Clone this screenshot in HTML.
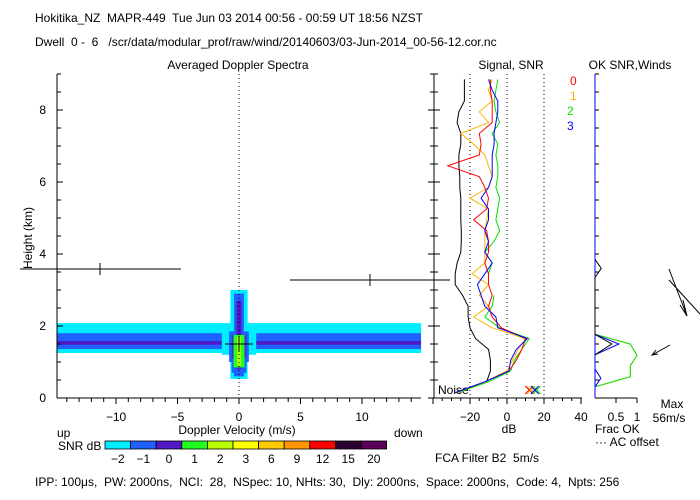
<!DOCTYPE html>
<html><head><meta charset="utf-8">
<style>
body{margin:0;background:#fff;}
svg{display:block;font-family:"Liberation Sans",sans-serif;}
text{font-size:12px;fill:#000;white-space:pre;}
</style></head>
<body>
<svg id="chart" width="700" height="500" viewBox="0 0 700 500" xml:space="preserve">
<text x="35" y="22" font-size="13">Hokitika_NZ  MAPR-449  Tue Jun 03 2014 00:56 - 00:59 UT 18:56 NZST</text>
<text x="35" y="46">Dwell  0 -  6   /scr/data/modular_prof/raw/wind/20140603/03-Jun-2014_00-56-12.cor.nc</text>
<text x="238" y="69" text-anchor="middle">Averaged Doppler Spectra</text>
<text x="511" y="69" text-anchor="middle">Signal, SNR</text>
<text x="630" y="69" text-anchor="middle">OK SNR,Winds</text>
<text transform="translate(32,238) rotate(-90)" text-anchor="middle">Height (km)</text>
<text x="237" y="434" text-anchor="middle">Doppler Velocity (m/s)</text>
<text x="57" y="437">up</text>
<text x="394" y="437">down</text>
<text x="58" y="450">SNR dB</text>
<text x="509" y="433" text-anchor="middle">dB</text>
<text x="595" y="433">Frac OK</text>
<text x="595" y="446">··· AC offset</text>
<text x="672" y="408" text-anchor="middle">Max</text>
<text x="669" y="422" text-anchor="middle">56m/s</text>
<text x="435" y="462">FCA Filter B2  5m/s</text>
<text x="35" y="486">IPP: 100μs,  PW: 2000ns,  NCI:  28,  NSpec: 10, NHts: 30,  Dly: 2000ns,  Space: 2000ns,  Code: 4,  Npts: 256</text>
<text x="438" y="394">Noise</text>
<text x="570" y="85" style="fill:#ff0000">0</text>
<text x="570" y="100" style="fill:#ffb400">1</text>
<text x="567" y="115" style="fill:#00e000">2</text>
<text x="567" y="130" style="fill:#0000ff">3</text>
<g id="g"></g>
</svg>
<script>
// ---- data ----
const heights=[0.15,0.45,0.75,1.05,1.35,1.65,1.95,2.25,2.55,2.85,3.15,3.45,3.75,4.05,4.35,4.65,4.95,5.25,5.55,5.85,6.15,6.45,6.75,7.05,7.35,7.65,7.95,8.25,8.55,8.85];
const noiseDb=[null,-11,-9,-9,-10,-17,-20,-21,-21,-24,-28,-28,-27,-25,-24.7,-24.7,-25,-25,-25,-25.5,-25.5,-26,-26,-25,-25,-27,-26,-23,-23,-23];
const snr0=[-28,-12,1,5,8,10,-3,-8,-10,-8,-10,-10,-12,-10,-10,-11,-18,-11,-10,-12,-15,-32,-15,-14,-15,-8,-8,-8,-9,-9];
const snr1=[-26,-12,0,3,6,10,-8,-18,-10,-15,-10,-19,-12,-12,-12,-12,-11,-10,-20,-10,-8,-10,-12,-18,-25,-10,-15,-8,-10,-8];
const snr2=[-27,-10,2,4,8,12,-4,-12,-8,-7,null,-10,-8,-12,-7,-4,-6,-5,-4,-6,-5,-5,-6,-5,-8,-4,-6,-7,-6,-5];
const snr3=[-28,-12,1,2,5,11,-5,-6,-12,-14,-16,-12,-8,-12,-10,-12,-10,-10,-14,-10,-8,-8,-8,-7,-7,-6,-5,-5,-8,-10];
const fracH=[0.31,0.59,0.9,1.18,1.5,1.77];
const frac1=[0,0.84,0.84,1.0,0.84,0];
const frac2=[0,0.84,0.84,1.0,0.84,0];
const frac3H=[0.31,0.55,0.8,1.2,1.5,1.77];
const frac3=[0,0.14,0,0,0.57,0];
const fracBlackH=[1.2,1.5,1.77,3.35,3.6,3.85];
const fracBlack=[0,0.4,0,0,0.15,0];
// spectra bands: [vmin, vmax, hmin, hmax, colorIndex]
const bands=[[-14.8,14.8,1.25,2.08,0],[-14.8,14.8,1.36,1.8,1],[-14.8,14.8,1.48,1.58,2],
[-0.7,0.7,0.53,3.0,0],[-1.4,1.4,1.2,2.0,0],[-0.4,0.4,0.6,2.9,1],[-0.8,0.8,1.0,1.85,1],[-0.6,0.6,0.7,1.2,1],
[-0.2,0.2,0.8,2.7,2],[-0.55,0.55,1.1,1.75,2],[-0.45,0.45,0.85,1.75,3],[-0.15,0.15,0.9,1.7,4]];
const cbLabels=["-2","-1","0","1","2","3","6","9","12","15","20"];
const cbColors=["#00ecff","#2060ff","#5018c8","#20ff20","#b8ff00","#ffff00","#ffc800","#ff9600","#ff0000","#2a0030","#5a005a"];
const velTicks=[-10,-5,0,5,10];
const hTicks=[0,2,4,6,8];
const dbTicks=[-20,0,20,40];
const fracTicks=["0.5","1"];
// ---- scales ----
const y=h=>398-h*36;
const xv=v=>239+v*12.3;
const xd=d=>507+d*1.85;
const xf=f=>595+f*42;
const NS="http://www.w3.org/2000/svg";
const g=document.getElementById('g');
function mk(t,a){const e=document.createElementNS(NS,t);for(const k in a)e.setAttribute(k,a[k]);g.appendChild(e);return e;}
bands.forEach(b=>{const r=mk('rect',{x:xv(b[0]),y:y(b[3]),width:xv(b[1])-xv(b[0]),height:y(b[2])-y(b[3]),fill:cbColors[b[4]]});

});
function line(x1,y1,x2,y2,c,extra){return mk('line',Object.assign({x1,y1,x2,y2,stroke:c||'#000','stroke-width':1},extra||{}));}
let a=line(57,74,57,398);
a=line(434,74,434,398);
a=line(57,398,421,398);
a=line(434,398,582,398);
a=line(595,398,637,398);
a=line(595,74,595,398,'#0000ff');
for(let h=0;h<=9;h+=0.5){const big=h%2===0;line(57,y(h),57+(big?6:4),y(h));line(434-(big?6:4),y(h),434+(big?6:4),y(h));line(595,y(h),599,y(h));}
hTicks.forEach(h=>{const t=mk('text',{x:46,y:y(h)+4,'text-anchor':'end'});t.textContent=h;

});
for(let v=-14;v<=14;v++){line(xv(v),398,xv(v),v%5===0?404:402);}
velTicks.forEach(v=>{const t=mk('text',{x:xv(v),y:421,'text-anchor':'middle'});t.textContent=v===0?'0':(v<0?'−'+(-v):v);

});
for(let d=-40;d<=40;d+=5){line(xd(d),398,xd(d),d%20===0?404:401);}
dbTicks.forEach(d=>{const t=mk('text',{x:xd(d),y:421,'text-anchor':'middle'});t.textContent=d<0?'−'+(-d):d;

});
fracTicks.forEach(f=>{line(xf(+f),398,xf(+f),403);const t=mk('text',{x:xf(+f),y:421,'text-anchor':'middle'});t.textContent=f;

});
a=line(239,74,239,398,'#000',{'stroke-dasharray':'1,3'});
[-20,0,20].forEach(d=>{const l=line(xd(d),74,xd(d),398,'#000',{'stroke-dasharray':'1,3'});

});
line(20,269,181,269);line(100,263,100,275);line(290,280,450,280);line(370,274,370,286);line(225,y(1.5),253,y(1.5));line(239,y(1.5)-8,239,y(1.5)+8);
function poly(xs,ys,xf_,color,name){let segs=[],cur=[];xs.forEach((v,i)=>{if(v===null){if(cur.length)segs.push(cur);cur=[];}else cur.push(xf_(v).toFixed(1)+','+y(ys[i]).toFixed(1));});if(cur.length)segs.push(cur);
segs.forEach(s=>{const p=mk('polyline',{points:s.join(' '),fill:'none',stroke:color,'stroke-width':1});

});}
poly(noiseDb,heights,xd,'#000','noise-line');
poly(snr1,heights,xd,'#ffb400','snr-line-1');
poly(snr2,heights,xd,'#00e000','snr-line-2');
poly(snr0,heights,xd,'#ff0000','snr-line-0');
poly(snr3,heights,xd,'#0000ff','snr-line-3');
poly(frac1,fracH,xf,'#ffb400','frac-line-1');
poly(frac2,fracH,xf,'#00e000','frac-line-2');
poly(frac3,frac3H,xf,'#0000ff','frac-line-3');
poly(fracBlack,fracBlackH,xf,'#000','frac-line-total');
[[12,'#ff0000'],[13,'#ffb400'],[16,'#00e000'],[15,'#0000ff']].forEach(m=>{line(xd(m[0])-4,394,xd(m[0])+4,386,m[1]);line(xd(m[0])-4,386,xd(m[0])+4,394,m[1]);});
const w1=mk('path',{d:'M669,269 L687,316 M683,300 L687,316 L680,305 M669,280 L700,314 M670,345 L652,355 M656,350 L652,355 L658,354',fill:'none',stroke:'#000'});


cbColors.forEach((c,i)=>{const r=mk('rect',{x:105+i*25.6,y:441,width:25.6,height:8,fill:c,stroke:'#000','stroke-width':0.8});


const t=mk('text',{x:105+i*25.6+12.8,y:463,'text-anchor':'middle'});t.textContent=cbLabels[i].replace('-','−');

});
</script>
</body></html>
